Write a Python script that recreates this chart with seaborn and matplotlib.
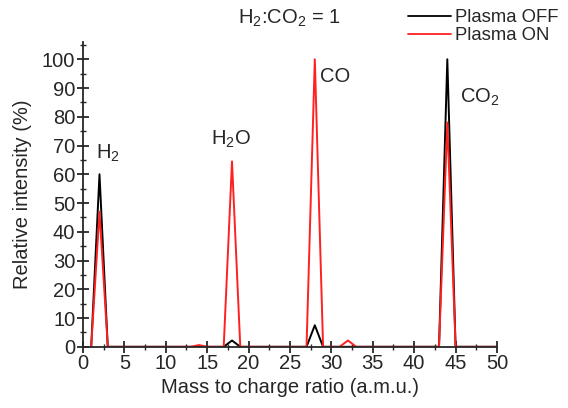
import numpy as np
import pandas as pd
import matplotlib
matplotlib.use("Agg")
import matplotlib.pyplot as plt
import seaborn as sns
from matplotlib.ticker import MultipleLocator
from matplotlib.lines import Line2D

mz = list(range(1, 51))
off_peaks = {2: 60, 18: 2.2, 28: 7.5, 44: 100}
on_peaks = {2: 47, 14: 0.6, 18: 64.5, 28: 100, 32: 2.2, 44: 78}
plasma_off = [off_peaks.get(m, 0) for m in mz]
plasma_on = [on_peaks.get(m, 0) for m in mz]
series_names = ["Plasma OFF", "Plasma ON"]
colors = ["black", "#ff2020"]

df = pd.DataFrame({
    "mz": mz * 2,
    "val": plasma_off + plasma_on,
    "series": [series_names[0]] * len(mz) + [series_names[1]] * len(mz),
})

sns.set_style("ticks")
plt.rcParams['font.family'] = ['Liberation Sans', 'DejaVu Sans']
plt.rcParams['mathtext.fontset'] = 'custom'
plt.rcParams['mathtext.rm'] = 'Liberation Sans'

fig = plt.figure(figsize=(5.68, 4.08), dpi=100)
ax = fig.add_axes([0.146, 0.150, 0.729, 0.747])
sns.lineplot(data=df, x="mz", y="val", hue="series", palette=colors,
             hue_order=series_names, linewidth=1.4, ax=ax, legend=False)

ax.set_xlim(0, 50)
ax.set_ylim(0, 106)
ax.xaxis.set_major_locator(MultipleLocator(5))
ax.xaxis.set_minor_locator(MultipleLocator(2.5))
ax.yaxis.set_major_locator(MultipleLocator(10))
ax.yaxis.set_minor_locator(MultipleLocator(5))
ax.tick_params(which="major", direction="inout", length=8, width=1.3, labelsize=14.5, pad=1.5)
ax.tick_params(which="minor", direction="inout", length=5, width=1.0)
for s in ["top", "right"]:
    ax.spines[s].set_visible(False)
for s in ["left", "bottom"]:
    ax.spines[s].set_linewidth(1.3)
ax.set_xlabel("Mass to charge ratio (a.m.u.)", fontsize=14.5, labelpad=3)
ax.set_ylabel("Relative intensity (%)", fontsize=14.5, labelpad=7)

fs = 14.5
ax.text(1.6, 65.5, "H$_2$", fontsize=fs, ha="left", va="baseline")
ax.text(15.5, 70.2, "H$_2$O", fontsize=fs, ha="left", va="baseline")
ax.text(28.6, 92.0, "CO", fontsize=fs, ha="left", va="baseline")
ax.text(45.5, 85.0, "CO$_2$", fontsize=fs, ha="left", va="baseline")
fig.text(0.509, 0.955, "H$_2$:CO$_2$ = 1", fontsize=fs, ha="center", va="center")

handles = [Line2D([], [], color=c, lw=1.3) for c in colors]
fig.legend(handles, series_names, loc="upper right", bbox_to_anchor=(1.0, 1.0),
           frameon=False, fontsize=13.3, handlelength=2.3, handletextpad=0.25,
           labelspacing=0.05, borderaxespad=0.1)

fig.savefig("out.png", dpi=100)
